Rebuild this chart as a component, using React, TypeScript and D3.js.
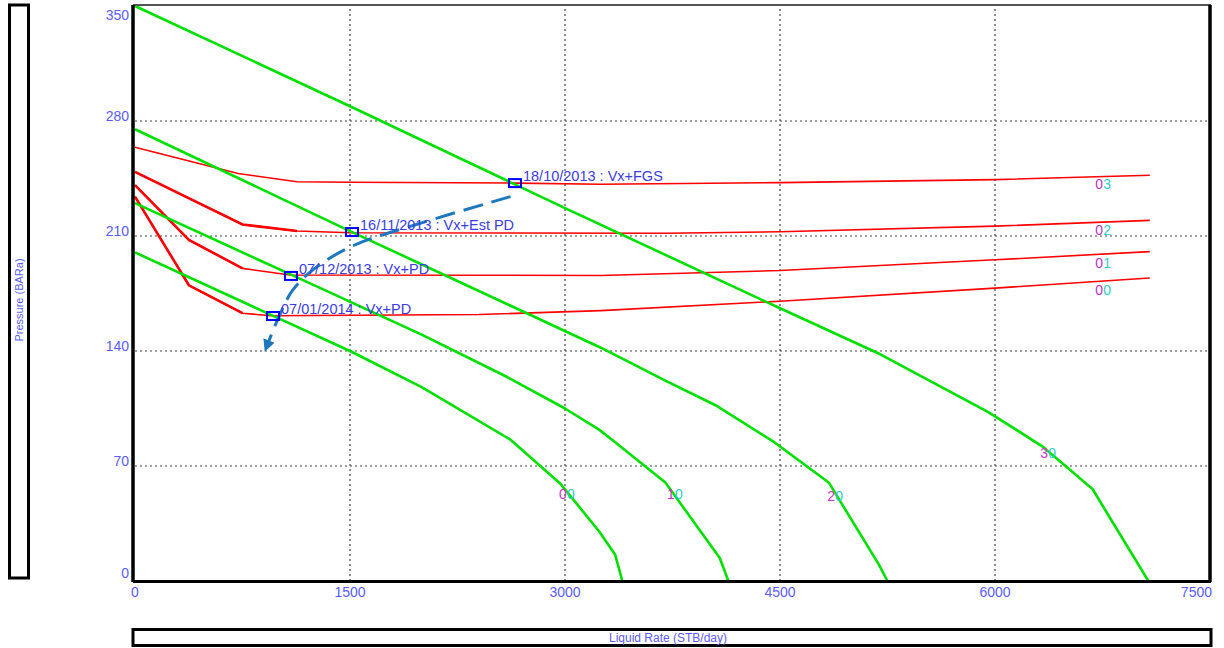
import React from "react";
import * as d3 from "d3";

// axis ticks
const xTicks = [0, 1500, 3000, 4500, 6000, 7500];
const yTicks = [0, 70, 140, 210, 280, 350];

// inflow curves (green), [liquid rate, pressure]
const ipr0 = [[0, 200], [960, 161.5], [1500, 140], [2000, 118], [2620, 86], [2970, 59], [3240, 30], [3350, 16], [3400, 0]];
const ipr1 = [[0, 230], [1100, 186], [2000, 150], [2600, 124], [3000, 105], [3240, 92], [3350, 84.5], [3700, 60], [4080, 14], [4140, 0]];
const ipr2 = [[0, 275], [1500, 213], [3250, 142], [3700, 122], [4050, 107], [4460, 84.5], [4840, 60], [5190, 10], [5250, 0]];
const ipr3 = [[0, 350], [1500, 289], [3000, 227], [4500, 166], [5200, 138], [5950, 103], [6330, 82], [6680, 56], [7070, 0]];

// outflow curves (red)
const vlp0 = [[0, 234], [376, 180], [750, 163], [950, 161.5], [2400, 162.2], [3250, 164.6], [4500, 170.3], [6000, 178.3], [7080, 184.4]];
const vlp1 = [[0, 241], [376, 207.6], [750, 190.3], [1080, 186.3], [3250, 186], [4500, 189], [6000, 195.5], [7080, 200.5]];
const vlp2 = [[0, 249], [750, 217], [1130, 213], [1500, 212], [3700, 211.7], [4500, 212.6], [6000, 216], [7080, 219.5]];
const vlp3 = [[0, 264], [720, 248], [1130, 243], [1500, 242.7], [2660, 242.2], [3250, 241.5], [4500, 242.5], [6000, 244.3], [7080, 247]];

// test points
const testPoints = [[2651, 242.2], [1514, 212.4], [1088, 185.7], [963, 161.3]];
const testLabels = ["18/10/2013 : Vx+FGS", "16/11/2013 : Vx+Est PD", "07/12/2013 : Vx+PD", "07/01/2014 : Vx+PD"];

// trend arrow
const trend = [[2620, 234], [2000, 218], [1520, 204], [1250, 190], [1100, 177], [1000, 160], [920, 143]];

// curve tags
const iprTagPts = [[3014, 53], [3767, 53], [4884, 52], [6370, 78]];
const vlpTagPts = [[6754, 177], [6754, 193.6], [6754, 213.6], [6754, 241.7]];

const BLUE_TXT = "#5b5bff";
const FONT = "'Liberation Sans', Arial, sans-serif";

export default function App() {
  const x = d3.scaleLinear().domain([0, 7500]).range([135, 1210]);
  const y = d3.scaleLinear().domain([0, 350]).range([581, 6]);
  const line = d3.line<number[]>().x((d) => x(d[0])).y((d) => y(d[1]));
  const curvy = d3
    .line<number[]>()
    .x((d) => x(d[0]))
    .y((d) => y(d[1]))
    .curve(d3.curveCatmullRom.alpha(0.5));

  const iprs = [ipr0, ipr1, ipr2, ipr3];
  const vlps = [vlp0, vlp1, vlp2, vlp3];

  return (
    <svg
      width={1224}
      height={648}
      style={{ position: "absolute", left: 0, top: 0, background: "#fff" }}
      fontFamily={FONT}
    >
      <defs>
        <marker id="arr" viewBox="0 0 10 10" refX="5" refY="5" markerWidth="4" markerHeight="4" orient="auto">
          <path d="M0,0 L10,5 L0,10 z" fill="#1e78be" />
        </marker>
      </defs>

      {/* y title box */}
      <rect x={9.5} y={5} width={19} height={573} fill="none" stroke="#000" strokeWidth={3} />
      <text
        transform="translate(23,300) rotate(-90)"
        textAnchor="middle"
        fontSize={11}
        fill={BLUE_TXT}
      >
        Pressure  (BARa)
      </text>

      {/* x title box */}
      <rect x={133} y={629.5} width={1078} height={16} fill="none" stroke="#000" strokeWidth={3} />
      <text x={668} y={642} textAnchor="middle" fontSize={12} fill={BLUE_TXT}>
        Liquid Rate  (STB/day)
      </text>

      {/* grid */}
      {xTicks.slice(1, -1).map((t) => (
        <line key={"gx" + t} x1={x(t)} x2={x(t)} y1={y(0)} y2={y(350)} stroke="#444" strokeWidth={1.2} strokeDasharray="2 3" />
      ))}
      {yTicks.slice(1, -1).map((t) => (
        <line key={"gy" + t} x1={x(0)} x2={x(7500)} y1={y(t)} y2={y(t)} stroke="#444" strokeWidth={1.2} strokeDasharray="2 3" />
      ))}

      {/* tick labels */}
      {xTicks.map((t, i) => (
        <text
          key={"tx" + t}
          x={i === xTicks.length - 1 ? x(t) + 2 : x(t)}
          y={597}
          textAnchor={i === xTicks.length - 1 ? "end" : "middle"}
          fontSize={14}
          fill={BLUE_TXT}
        >
          {t}
        </text>
      ))}
      {yTicks.map((t) => (
        <text
          key={"ty" + t}
          x={129}
          y={Math.min(578, Math.max(19.5, y(t)))}
          textAnchor="end"
          fontSize={14}
          fill={BLUE_TXT}
        >
          {t}
        </text>
      ))}

      {/* outflow curves */}
      {vlps.map((d, i) => (
        <g key={"v" + i}>
          <path d={line(d) || ""} fill="none" stroke="#ff0000" strokeWidth={1.6} />
          {i < 3 && <path d={line(d.slice(0, 3)) || ""} fill="none" stroke="#ff0000" strokeWidth={2.6} />}
        </g>
      ))}

      {/* inflow curves */}
      {iprs.map((d, i) => (
        <path key={"p" + i} d={line(d) || ""} fill="none" stroke="#00e000" strokeWidth={2.6} strokeLinejoin="round" />
      ))}

      {/* curve tags */}
      {iprTagPts.map((p, i) => (
        <g key={"it" + i} fontSize={14}>
          <text x={x(p[0]) + 4} y={y(p[1]) + 5} textAnchor="middle" fill="#33cccc">0</text>
          <text x={x(p[0]) - 4} y={y(p[1]) + 5} textAnchor="middle" fill="#cc33cc">{i}</text>
        </g>
      ))}
      {vlpTagPts.map((p, i) => (
        <g key={"vt" + i} fontSize={14}>
          <text x={x(p[0]) + 4} y={y(p[1]) + 5} textAnchor="middle" fill="#33cccc">{i}</text>
          <text x={x(p[0]) - 4} y={y(p[1]) + 5} textAnchor="middle" fill="#bb33cc">0</text>
        </g>
      ))}

      {/* trend arrow */}
      <path
        d={curvy(trend) || ""}
        fill="none"
        stroke="#1e78be"
        strokeWidth={3}
        strokeDasharray="20 9"
        markerEnd="url(#arr)"
      />

      {/* test points */}
      {testPoints.map((p, i) => (
        <g key={"tp" + i}>
          <rect x={x(p[0]) - 6} y={y(p[1]) - 4} width={12} height={8} fill="none" stroke="#0000ff" strokeWidth={2} />
          <text x={x(p[0]) + 8} y={y(p[1]) - 2} fontSize={14.5} fill="#3c3ce0">
            {testLabels[i]}
          </text>
        </g>
      ))}

      {/* frame */}
      <line x1={133} x2={1211} y1={5} y2={5} stroke="#555" strokeWidth={2} />
      <line x1={133} x2={133} y1={5} y2={582} stroke="#000" strokeWidth={3.5} />
      <line x1={1210} x2={1210} y1={5} y2={582} stroke="#000" strokeWidth={3.5} />
      <line x1={133} x2={1211} y1={581.5} y2={581.5} stroke="#000" strokeWidth={3} />
    </svg>
  );
}
